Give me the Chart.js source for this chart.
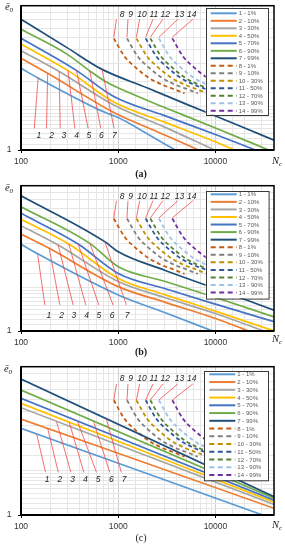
<!DOCTYPE html>
<html><head><meta charset="utf-8">
<script src="https://cdn.jsdelivr.net/npm/chart.js@4.4.1/dist/chart.umd.min.js"></script>
<style>
html,body{margin:0;padding:0;background:#fff;}
body{position:relative;width:285px;height:550px;overflow:hidden;}
canvas{position:absolute;left:0;}
.t{position:absolute;transform:translate(-50%,-50%);white-space:nowrap;color:#1a1a1a;line-height:1;}
.cap{font-family:"Liberation Serif","DejaVu Serif",serif;font-size:10px;}
.ttl{font-family:"Liberation Serif","DejaVu Serif",serif;font-style:italic;font-size:10.5px;}
.ttl sub{font-size:7px;vertical-align:-2px;}
</style></head><body>
<canvas id="ca" width="285" height="180" style="top:0px"></canvas>
<canvas id="cb" width="285" height="185" style="top:180px"></canvas>
<canvas id="cc" width="285" height="185" style="top:365px"></canvas>
<div class="t cap" style="left:141px;top:174px;font-weight:bold">(a)</div>
<div class="t cap" style="left:141px;top:352px;font-weight:bold">(b)</div>
<div class="t cap" style="left:141px;top:538px;">(c)</div>
<div class="t ttl" style="left:9px;top:8px">ē<sub>0</sub></div>
<div class="t ttl" style="left:9px;top:189px">ē<sub>0</sub></div>
<div class="t ttl" style="left:8px;top:370px">ē<sub>0</sub></div>
<div class="t ttl" style="left:277px;top:162px">N<sub>c</sub></div>
<div class="t ttl" style="left:277px;top:340px">N<sub>c</sub></div>
<div class="t ttl" style="left:277px;top:526px">N<sub>c</sub></div>
<script>
// ---------- data ----------
const xTickLabels = [100, 1000, 10000];
const yTickLabels = [1];
const seriesLabels = ['1 - 1%','2 - 10%','3 - 30%','4 - 50%','5 - 70%','6 - 90%','7 - 99%',
                      '8 - 1%','9 - 10%','10 - 30%','11 - 50%','12 - 70%','13 - 90%','14 - 99%'];
const leaderTexts = ['1','2','3','4','5','6','7'];
const dashLeaderTexts = ['8','9','10','11','12','13','14'];

// panel (a) solid curves [N, e0]
const A1 = [[100,3.68],[150,3.15],[646,1.89],[800,1.78],[1000,1.68],[2000,1.29],[3865,1.0]];
const A2 = [[100,4.32],[188,3.4],[900,1.82],[2000,1.43],[4000,1.17],[6700,1.0]];
const A3 = [[100,4.88],[247,3.5],[900,2.05],[3000,1.44],[9770,1.0]];
const A4 = [[100,5.43],[305,3.55],[900,2.15],[3000,1.56],[10000,1.14],[15700,1.0]];
const A5 = [[100,5.94],[373,3.55],[900,2.35],[3000,1.73],[10000,1.28],[25700,1.0]];
const A6 = [[100,6.86],[300,4.6],[510,3.53],[730,3.0],[1200,2.55],[3000,1.97],[10000,1.42],[35200,1.0]];
const A7 = [[100,8.05],[300,5.1],[682,3.62],[2000,2.69],[5000,2.08],[10000,1.72],[20000,1.42],[40000,1.17]];

// panel (b) solid curves
const B1 = [[100,3.95],[148,3.40],[1000,1.77],[3000,1.34],[9400,1.0]];
const B2 = [[100,4.65],[195,3.71],[1000,2.02],[3000,1.58],[10000,1.22],[22000,1.0]];
const B3 = [[100,5.31],[241,3.91],[1000,2.19],[3000,1.70],[10000,1.32],[31300,1.0]];
const B4 = [[100,5.87],[310,3.97],[1000,2.30],[3000,1.78],[10000,1.37],[40000,1.0]];
const B5 = [[100,6.45],[387,3.97],[1000,2.49],[3000,1.96],[10000,1.53],[40000,1.16]];
const B6 = [[100,7.17],[510,4.01],[1000,2.77],[3000,2.20],[10000,1.70],[40000,1.25]];
const B7 = [[100,8.53],[727,4.12],[1000,3.51],[3000,2.62],[10000,1.96],[40000,1.39]];

// panel (c) solid curves
const C1 = [[100,3.84],[30600,1.0]];
const C2 = [[100,4.44],[40000,1.11]];
const C3 = [[100,5.29],[40000,1.18]];
const C4 = [[100,5.66],[40000,1.22]];
const C5 = [[100,6.12],[40000,1.26]];
const C6 = [[100,6.96],[40000,1.30]];
const C7 = [[100,8.26],[40000,1.33]];

// dashed curves 8-14 (same in all panels)
const dashE = [5.94,4.43,3.78,3.14,2.82,2.61,2.47];
const D8N  = [900,1166,1476,2100,2880,3950,4810];
const D9N  = [1230,1594,2018,2871,3937,5400,6575];
const D10N = [1537,1991,2521,3587,4919,6747,8215];
const D11N = [1914,2480,3139,4467,6126,8402,10231];
const D12N = [2138,2770,3507,4990,6843,9385,11429];
const D13N = [2618,3392,4294,6109,8378,11491,13992];
const D14N = [3597,4660,5900,8394,11511,15788,19226];

// dashed-curve leaders (N positions)
const dashLabelN = [1094,1343,1754,2328,3048,4276,5715];
const dashLeadTopN = [959,1259,1662,2275,2877,4100,5848];
const dashLeadBotN = [900,1230,1537,1914,2138,2618,3597];

// solid-curve leaders per panel
const aLeadBotN = [137,183,253,358,490,661,906];
const aLeadTop = [[150,3.15],[188,3.4],[247,3.5],[305,3.55],[373,3.55],[510,3.53],[682,3.62]];
const aLabelN = [153,206,276,373,498,672,914];
const bLeadBotN = [176,251,344,464,631,885,1213];
const bLeadTop = [[148,3.40],[195,3.71],[241,3.91],[310,3.97],[387,3.97],[510,4.01],[727,4.12]];
const bLabelN = [194,261,350,472,631,865,1233];
const cLeadBotN = [179,242,326,443,597,818,1077];
const cLeadTop = [[145,3.50],[188,3.84],[232,4.26],[313,4.23],[381,4.28],[561,4.22],[757,4.40]];
const cLabelN = [186,251,339,460,621,851,1148];

// ---------- styles ----------
const colors = ['#5B9BD5','#ED7D31','#A5A5A5','#FFC000','#4472C4','#70AD47','#1F4E79',
                '#C55A11','#7F7F7F','#BF9000','#2F5597','#548235','#9DC3E6','#7030A0'];
const FONT = '"Liberation Sans", Arial, sans-serif';
const LEADER = '#f04a4a';

function pts(a){ return a.map(p => ({x:p[0], y:p[1]})); }
function zip(ns, es){ return ns.map((n,i) => ({x:n, y:es[i]})); }
function near(v, arr){ return arr.some(t => Math.abs(v - t) < 1e-6 * t); }

const decor = {
  id: 'decor',
  afterDatasetsDraw(chart, args, o){
    const ctx = chart.ctx, xs = chart.scales.x, ys = chart.scales.y, ca = chart.chartArea;
    ctx.save();
    ctx.font = 'italic 8.5px ' + FONT;
    ctx.fillStyle = '#262626';
    ctx.textAlign = 'center';
    ctx.textBaseline = 'middle';
    o.labelN.forEach((n,i) => ctx.fillText(leaderTexts[i], xs.getPixelForValue(n), ys.getPixelForValue(o.labelE)));
    dashLabelN.forEach((n,i) => ctx.fillText(dashLeaderTexts[i], xs.getPixelForValue(n), ys.getPixelForValue(o.dLabelE)));
    // legend box
    const L = o.legend;
    const bx = ca.left + L.dx, by = ca.top + L.dy;
    ctx.fillStyle = '#fff';
    ctx.fillRect(bx, by, L.w, L.h);
    ctx.strokeStyle = '#3a3a3a';
    ctx.lineWidth = 1;
    ctx.strokeRect(Math.round(bx)+0.5, Math.round(by)+0.5, L.w, L.h);
    ctx.font = '6px ' + FONT;
    ctx.textAlign = 'left';
    ctx.fillStyle = '#595959';
    seriesLabels.forEach((lab,i) => {
      const y = by + L.first + i * L.row;
      ctx.beginPath();
      ctx.strokeStyle = colors[i];
      ctx.lineWidth = 2;
      ctx.setLineDash(i >= 7 ? [5,3.5] : []);
      ctx.moveTo(bx + 5, y); ctx.lineTo(bx + 31, y);
      ctx.stroke();
      ctx.setLineDash([]);
      ctx.fillText(lab, bx + 33, y + 0.5);
    });
    ctx.restore();
  },
  afterDraw(chart){
    const ctx = chart.ctx, ca = chart.chartArea;
    ctx.save();
    ctx.strokeStyle = '#000';
    ctx.lineWidth = 1.5;
    ctx.strokeRect(ca.left, ca.top, ca.right - ca.left, ca.bottom - ca.top);
    ctx.lineWidth = 2;
    ctx.beginPath();
    ctx.moveTo(ca.left, ca.top); ctx.lineTo(ca.left, ca.bottom); ctx.lineTo(ca.right, ca.bottom);
    ctx.stroke();
    ctx.restore();
  }
};

function build(id, H, padTop, bottom, solid, p){
  const ds = [];
  for (let i = 0; i < 7; i++){
    ds.push({data:[{x:p.leadBotN[i], y:p.leadBotE},{x:p.leadTop[i][0], y:p.leadTop[i][1]}],
             borderColor:LEADER, borderWidth:0.8, showLine:true, pointRadius:0});
  }
  const dashN = [D8N,D9N,D10N,D11N,D12N,D13N,D14N];
  for (let i = 0; i < 7; i++){
    ds.push({data:[{x:dashLeadBotN[i], y:p.dLeadBotE},{x:dashLeadTopN[i], y:p.dLeadTopE}],
             borderColor:LEADER, borderWidth:0.8, showLine:true, pointRadius:0});
  }
  for (let i = 6; i >= 0; i--){
    ds.push({label:seriesLabels[i], data:pts(solid[i]), borderColor:colors[i], borderWidth:1.7,
             showLine:true, pointRadius:0, cubicInterpolationMode:'monotone'});
  }
  for (let i = 6; i >= 0; i--){
    ds.push({label:seriesLabels[7+i], data:zip(dashN[i], dashE), borderColor:colors[7+i], borderWidth:1.8,
             borderDash:[4,3], showLine:true, pointRadius:0, cubicInterpolationMode:'monotone'});
  }
  new Chart(document.getElementById(id), {
    type:'scatter',
    data:{datasets:ds},
    plugins:[decor],
    options:{
      responsive:false, animation:false, devicePixelRatio:1,
      layout:{padding:{top:padTop, right:11, left:0, bottom:0}},
      plugins:{legend:{display:false}, tooltip:{enabled:false}, decor:p},
      scales:{
        x:{type:'logarithmic', min:100, max:40000, border:{display:false},
           grid:{color:c => (c.tick && near(c.tick.value,[1000,10000])) ? '#cdcdcd' : '#e6e6e6',
                 lineWidth:1, tickLength:3,
                 tickColor:c => (c.tick && near(c.tick.value,xTickLabels)) ? '#000' : 'rgba(0,0,0,0)'},
           ticks:{autoSkip:false, maxRotation:0, minRotation:0, padding:4, color:'#333',
                  font:{family:FONT, size:8.5},
                  callback:v => near(v, xTickLabels) ? String(v) : ''},
           afterFit:s => { s.height = H - bottom; s.paddingLeft = 0; s.paddingRight = 0; }},
        y:{type:'logarithmic', min:1, max:10, border:{display:false},
           grid:{color:'#e6e6e6', lineWidth:1, tickLength:3,
                 tickColor:c => (c.tick && near(c.tick.value,yTickLabels)) ? '#000' : 'rgba(0,0,0,0)'},
           ticks:{autoSkip:false, padding:6.5, color:'#333', font:{family:FONT, size:8.5},
                  callback:v => near(v, yTickLabels) ? String(v) : ''},
           afterFit:s => { s.width = 21; s.paddingTop = 0; s.paddingBottom = 0; }}
      }
    }
  });
}

build('ca', 180, 5.7, 150, [A1,A2,A3,A4,A5,A6,A7],
  {leadBotN:aLeadBotN, leadBotE:1.413, leadTop:aLeadTop, labelN:aLabelN, labelE:1.25,
   dLabelE:8.62, dLeadTopE:8.05, dLeadBotE:6.05,
   legend:{dx:184.7, dy:2.1, w:62, h:107, first:5.5, row:7.5}});
build('cb', 185, 5.7, 151, [B1,B2,B3,B4,B5,B6,B7],
  {leadBotN:bLeadBotN, leadBotE:1.51, leadTop:bLeadTop, labelN:bLabelN, labelE:1.27,
   dLabelE:8.4, dLeadTopE:7.88, dLeadBotE:6.0,
   legend:{dx:184.7, dy:5, w:62.6, h:107.6, first:3.6, row:7.56}});
build('cc', 185, 1.7, 150, [C1,C2,C3,C4,C5,C6,C7],
  {leadBotN:cLeadBotN, leadBotE:1.94, leadTop:cLeadTop, labelN:cLabelN, labelE:1.72,
   dLabelE:8.34, dLeadTopE:7.64, dLeadBotE:5.96,
   legend:{dx:183.3, dy:4, w:64, h:109.3, first:3.6, row:7.75}});
</script>
</body></html>
